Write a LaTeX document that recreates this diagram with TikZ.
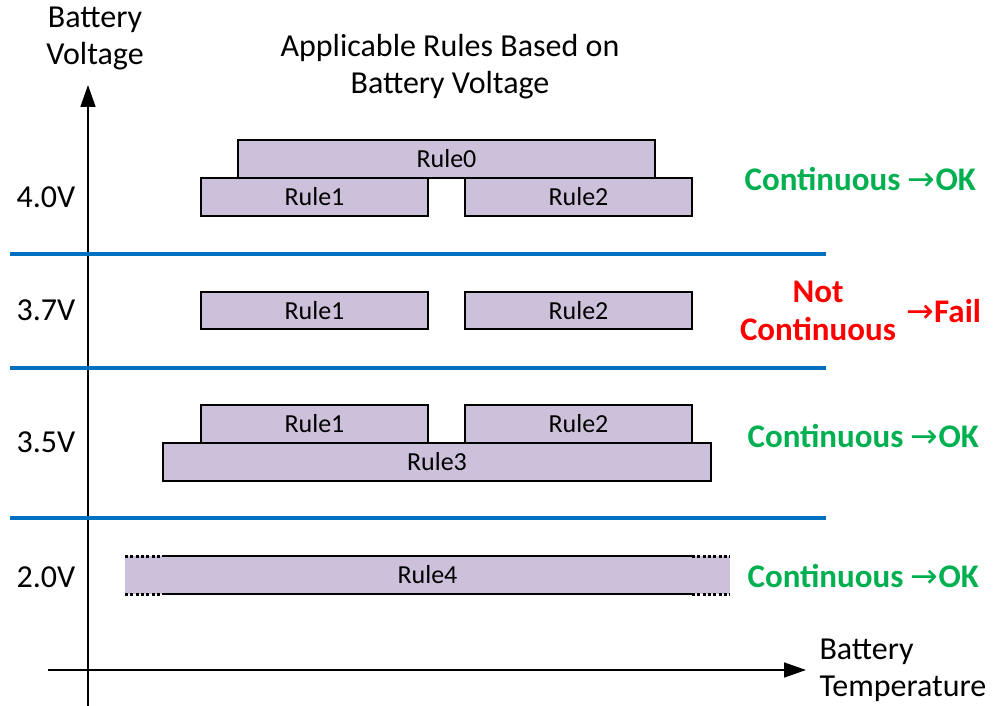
\documentclass[tikz,border=0pt]{standalone}
\usepackage{fontspec}
\setmainfont{Carlito}
\newfontfamily\arrowfont{DejaVu Sans}
\usetikzlibrary{arrows.meta}
\definecolor{rulefill}{HTML}{CCC0DA}
\definecolor{sepblue}{HTML}{0070C0}
\definecolor{okgreen}{HTML}{00B050}
\definecolor{failred}{HTML}{FF0000}
\tikzset{
  rulebox/.style={draw=black, line width=1.5pt, fill=rulefill},
  rulelabel/.style={font=\fontsize{26}{30}\selectfont},
  axislabel/.style={font=\fontsize{32}{37}\selectfont, align=center},
  voltlabel/.style={font=\fontsize{32}{37}\selectfont},
  sepline/.style={draw=sepblue, line width=4pt},
  axisline/.style={draw=black, line width=1.5pt, -{Triangle[length=22pt,width=15pt]}},
  okstatus/.style={font=\fontsize{33}{38}\selectfont\bfseries, text=okgreen},
  failstatus/.style={font=\fontsize{33}{38}\selectfont\bfseries, text=failred, align=center},
  openedge/.style={line width=3pt, dash pattern=on 3pt off 2.3pt},
}
\newcommand{\rarr}{{\arrowfont\mdseries →}}
\begin{document}
\begin{tikzpicture}[x=1pt, y=-1pt]
\useasboundingbox (0,0) rectangle (995,706);

% axes
\coordinate (yaxbot) at (88,706);
\coordinate (yaxtop) at (88,85);
\coordinate (xaxleft) at (48,670);
\coordinate (xaxright) at (806,670);
\draw[axisline] (yaxbot) -- (yaxtop);
\draw[axisline] (xaxleft) -- (xaxright);
\node[axislabel] (ylab) at (95,38.5) {Battery\\Voltage};
\node[axislabel, align=left, anchor=west] (xlab) at (816,670) {Battery\\Temperature};
\node[axislabel] (title) at (450,67) {Applicable Rules Based on\\Battery Voltage};

% separators between voltage bands
\coordinate (s1l) at (10,254); \coordinate (s1r) at (826,254);
\coordinate (s2l) at (10,368); \coordinate (s2r) at (826,368);
\coordinate (s3l) at (10,518); \coordinate (s3r) at (826,518);
\draw[sepline] (s1l) -- (s1r);
\draw[sepline] (s2l) -- (s2r);
\draw[sepline] (s3l) -- (s3r);

% voltage labels
\node[voltlabel] (v40) at (46,197) {4.0V};
\node[voltlabel] (v37) at (46,310) {3.7V};
\node[voltlabel] (v35) at (46,442) {3.5V};
\node[voltlabel] (v20) at (46,577) {2.0V};

% 4.0V band
\draw[rulebox] (238,140) rectangle (655,178);
\node[rulelabel] (r0) at (446.5,159) {Rule0};
\draw[rulebox] (201,178) rectangle (428,216);
\node[rulelabel] (r1a) at (314.5,197) {Rule1};
\draw[rulebox] (465,178) rectangle (692,216);
\node[rulelabel] (r2a) at (578.5,197) {Rule2};

% 3.7V band
\draw[rulebox] (201,292) rectangle (428,329);
\node[rulelabel] (r1b) at (314.5,310.5) {Rule1};
\draw[rulebox] (465,292) rectangle (692,329);
\node[rulelabel] (r2b) at (578.5,310.5) {Rule2};

% 3.5V band
\draw[rulebox] (201,405) rectangle (428,443);
\node[rulelabel] (r1c) at (314.5,424) {Rule1};
\draw[rulebox] (465,405) rectangle (692,443);
\node[rulelabel] (r2c) at (578.5,424) {Rule2};
\draw[rulebox] (163,443) rectangle (711,481);
\node[rulelabel] (r3) at (437,462) {Rule3};

% 2.0V band: open-ended rule
\fill[rulefill] (125,556) rectangle (730,594);
\draw[line width=1.5pt] (162,556) -- (692,556);
\draw[line width=1.5pt] (162,594) -- (692,594);
\draw[openedge] (125,556) -- (162,556);
\draw[openedge] (125,594) -- (162,594);
\draw[openedge] (692,556) -- (730,556);
\draw[openedge] (692,594) -- (730,594);
\node[rulelabel] (r4) at (427.5,575) {Rule4};

% status
\node[okstatus, anchor=west] (st40) at (741,179) {Continuous \rarr OK};
\node[failstatus] (st37) at (818,311) {Not\\Continuous};
\node[failstatus, anchor=west] (st37b) at (903,311) {\rarr Fail};
\node[okstatus, anchor=west] (st35) at (744,436) {Continuous \rarr OK};
\node[okstatus, anchor=west] (st20) at (744,576) {Continuous \rarr OK};
\end{tikzpicture}
\end{document}
